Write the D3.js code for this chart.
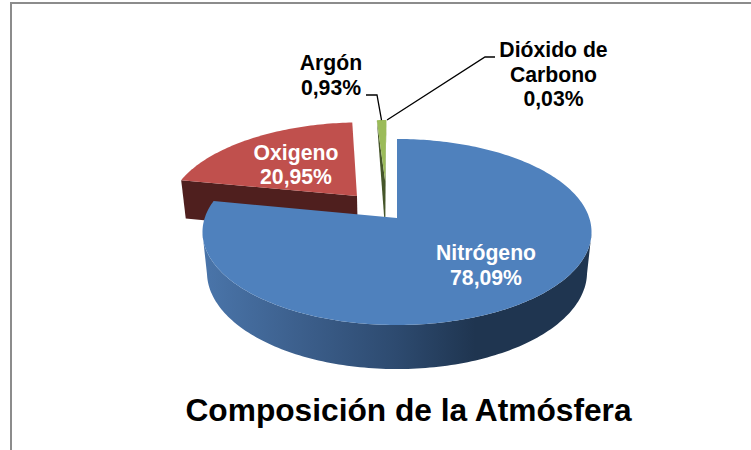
<!DOCTYPE html>
<html lang="es">
<head>
<meta charset="utf-8">
<script src="https://cdn.jsdelivr.net/npm/d3@7"></script>
<style>
html,body{margin:0;padding:0;background:#fff;overflow:hidden}
svg{display:block}
text{font-family:"Liberation Sans",Arial,sans-serif;font-weight:700}
</style>
</head>
<body>
<svg id="chart" width="751" height="450"></svg>
<script>
// Data
const categories = ["Nitrógeno", "Oxigeno", "Argón", "Dióxido de Carbono"];
const percentages = [78.09, 20.95, 0.93, 0.03];
const percentLabels = ["78,09%", "20,95%", "0,93%", "0,03%"];
const topColors = ["#4f81bd", "#c0504d", "#9bbb59", "#9bbb59"];
const sideColors = ["#2a4668", "#4f1f1e", "#46562a", "#46562a"];
const title = "Composición de la Atmósfera";

// Layout: perspective projection of a unit-radius disc
const apex = {x: 397, y: 218}, Rx = 192.3, Ry = 90.9, H = 40.9, pv = 0.1505, pz = 0.023;
const explodeOffset = [[0, 0], [-0.216, 0.251], [-0.065, 0.286], [-0.065, 0.286]];
const apexLift = [0, 0, 0.14, 0.14];
const drawOrder = [3, 2, 1, 0];

const project = (u, v, z) => {
  const w = 1 + pv * v + pz * z;
  return [apex.x + Rx * u / w, apex.y + (-Ry * v + H * z) / w];
};

const pie = d3.pie().sort(null).value(d => d).startAngle(0).endAngle(2 * Math.PI);
const arcs = pie(percentages);
const svg = d3.select("#chart");
const poly = d3.line();

// Gradient on the rim of the large slice
const rimX = d3.scaleLinear().domain([0, 1]).range([203, 592]);
const grad = svg.append("defs").append("linearGradient")
  .attr("id", "rim").attr("gradientUnits", "userSpaceOnUse")
  .attr("x1", rimX(0)).attr("x2", rimX(1)).attr("y1", 0).attr("y2", 0);
[[0, "#4a75aa"], [0.25, "#3c5f8c"], [0.5, "#2d4a6f"], [0.7, "#1f3550"], [1, "#1f3550"]]
  .forEach(([o, c]) => grad.append("stop").attr("offset", o).attr("stop-color", c));

// Frame
svg.append("path").attr("d", "M11,450V3H751").attr("fill", "none")
  .attr("stroke", "#8c8c8c").attr("stroke-width", 2);

const arcAngles = a => {
  const n = Math.max(2, Math.ceil((a.endAngle - a.startAngle) / 0.02));
  return d3.range(n + 1).map(k => a.startAngle + (a.endAngle - a.startAngle) * k / n);
};
const pointAt = (t, off, z) => project(Math.sin(t) + off[0], Math.cos(t) + off[1], z);

drawOrder.forEach(i => {
  const a = arcs[i], off = explodeOffset[i];
  const top = arcAngles(a).map(t => pointAt(t, off, 0));
  const apexTop = project(off[0], off[1] + apexLift[i], 0), apexBot = project(off[0], off[1], 1);
  const g = svg.append("g");
  if (i === 0) {
    // rim of the disc: only the part that faces the viewer
    const front = arcAngles(a).filter(t => Math.cos(t) < -0.145);
    const upper = front.map(t => pointAt(t, off, 0));
    const lower = front.map(t => pointAt(t, off, 1)).reverse();
    g.append("path").attr("d", poly(upper.concat(lower)) + "Z").attr("fill", "url(#rim)");
  } else {
    // radial face on the start edge of the slice
    const face = [apexTop, top[0]];
    if (i === 1) face.push(pointAt(a.startAngle, off, 1));
    face.push(apexBot);
    g.append("path").attr("d", poly(face) + "Z").attr("fill", sideColors[i]);
  }
  g.append("path").attr("d", poly([apexTop].concat(top)) + "Z").attr("fill", topColors[i]);
});

// Leader lines
const argonMid = (arcs[2].startAngle + arcs[2].endAngle) / 2;
const argonTop = pointAt(argonMid, explodeOffset[2], 0);
const co2Top = pointAt(arcs[3].endAngle, explodeOffset[3], 0);
svg.append("path").attr("fill", "none").attr("stroke", "#000").attr("stroke-width", 1.3)
  .attr("d", poly([[366, 95], [377, 95], argonTop]));
svg.append("path").attr("fill", "none").attr("stroke", "#000").attr("stroke-width", 1.3)
  .attr("d", poly([[co2Top[0] + 0.5, co2Top[1]], [485, 57], [495, 57]]));

// Labels
const labelSpec = [
  {i: 0, x: 486, ys: [260, 285], fill: "#fff", lines: [categories[0]]},
  {i: 1, x: 296, ys: [160, 184], fill: "#fff", lines: [categories[1]]},
  {i: 2, x: 331, ys: [70, 95], fill: "#000", lines: [categories[2]]},
  {i: 3, x: 553.5, ys: [57, 82, 106], fill: "#000", lines: categories[3].replace("de ", "de|").split("|")}
];
labelSpec.forEach(s => {
  s.lines.concat(percentLabels[s.i]).forEach((t, k) => {
    svg.append("text").attr("x", s.x).attr("y", s.ys[k]).attr("text-anchor", "middle")
      .attr("font-size", 21.2).attr("fill", s.fill).text(t);
  });
});

svg.append("text").attr("x", 408.5).attr("y", 421).attr("text-anchor", "middle")
  .attr("font-size", 31.7).attr("fill", "#000").text(title);
</script>
</body>
</html>
